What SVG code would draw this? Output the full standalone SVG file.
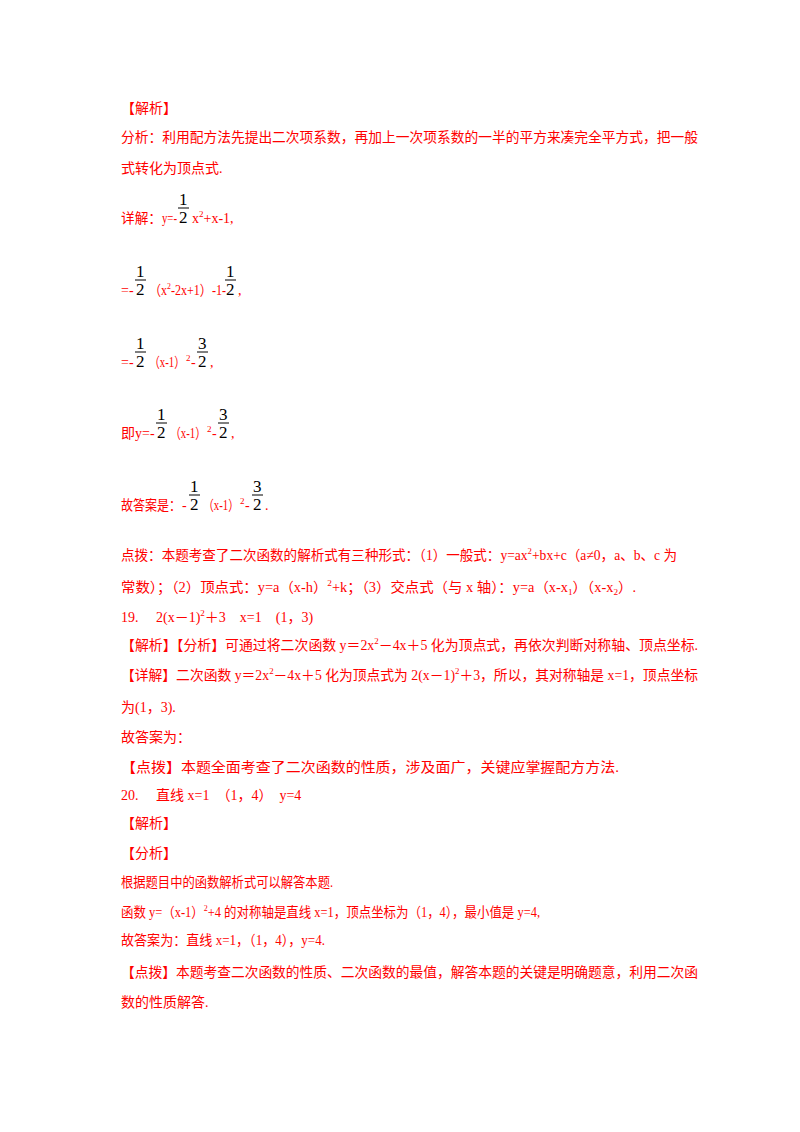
<svg xmlns="http://www.w3.org/2000/svg" width="800" height="1132" viewBox="0 0 800 1132">
<style>
text{font-family:"Liberation Serif","Noto Sans CJK SC",serif;font-size:14px;fill:#f00}
.s{font-size:9px}
.f{font-family:"Liberation Serif",serif;font-size:17px;fill:#000}
line{stroke:#000;stroke-width:1}
</style>
<rect width="800" height="1132" fill="#fff"/>
<g id="text">
<text x="121" y="113">【解析】</text>
<text x="121" y="142" textLength="577" lengthAdjust="spacingAndGlyphs">分析：利用配方法先提出二次项系数，再加上一次项系数的一半的平方来凑完全平方式，把一般</text>
<text x="121" y="173">式转化为顶点式.</text>

<text x="121" y="223" textLength="41" lengthAdjust="spacingAndGlyphs">详解：</text><text x="162" y="223" textLength="15" lengthAdjust="spacingAndGlyphs">y=-</text>
<text x="179" y="205" class="f">1</text><line x1="178" y1="208" x2="189" y2="208"/><text x="179" y="223" class="f">2</text>
<text x="192" y="223">x<tspan class="s" dy="-6">2</tspan><tspan dy="6">+x-1,</tspan></text>

<text x="121" y="295">=-</text>
<text x="136" y="277" class="f">1</text><line x1="135" y1="280" x2="146" y2="280"/><text x="136" y="295" class="f">2</text>
<text x="149" y="295" textLength="77" lengthAdjust="spacingAndGlyphs">（x<tspan class="s" dy="-6">2</tspan><tspan dy="6">-2x+1）-1-</tspan></text>
<text x="226" y="277" class="f">1</text><line x1="225" y1="280" x2="236" y2="280"/><text x="226" y="295" class="f">2</text>
<text x="238" y="295">,</text>

<text x="121" y="367">=-</text>
<text x="136" y="349" class="f">1</text><line x1="135" y1="352" x2="146" y2="352"/><text x="136" y="367" class="f">2</text>
<text x="149" y="367" textLength="36" lengthAdjust="spacingAndGlyphs">（x-1）</text><text x="186" y="361" class="s">2</text><text x="191" y="367">-</text>
<text x="198" y="349" class="f">3</text><line x1="197" y1="352" x2="208" y2="352"/><text x="198" y="367" class="f">2</text>
<text x="210" y="367">,</text>

<text x="121" y="438">即y=-</text>
<text x="157" y="420" class="f">1</text><line x1="156" y1="423" x2="167" y2="423"/><text x="157" y="438" class="f">2</text>
<text x="170" y="438" textLength="36" lengthAdjust="spacingAndGlyphs">（x-1）</text><text x="207" y="432" class="s">2</text><text x="212" y="438">-</text>
<text x="219" y="420" class="f">3</text><line x1="218" y1="423" x2="229" y2="423"/><text x="219" y="438" class="f">2</text>
<text x="231" y="438">,</text>

<text x="121" y="510" textLength="60" lengthAdjust="spacingAndGlyphs">故答案是：</text><text x="182" y="510">-</text>
<text x="190" y="492" class="f">1</text><line x1="189" y1="495" x2="200" y2="495"/><text x="190" y="510" class="f">2</text>
<text x="203" y="510" textLength="36" lengthAdjust="spacingAndGlyphs">（x-1）</text><text x="240" y="504" class="s">2</text><text x="245" y="510">-</text>
<text x="253" y="492" class="f">3</text><line x1="252" y1="495" x2="263" y2="495"/><text x="253" y="510" class="f">2</text>
<text x="265" y="510">.</text>

<text x="121" y="560" textLength="556" lengthAdjust="spacingAndGlyphs">点拨：本题考查了二次函数的解析式有三种形式：（1）一般式：y=ax<tspan class="s" dy="-6">2</tspan><tspan dy="6">+bx+c（a≠0，a、b、c 为</tspan></text>
<text x="121" y="592" textLength="515" lengthAdjust="spacingAndGlyphs">常数）；（2）顶点式：y=a（x-h）<tspan class="s" dy="-6">2</tspan><tspan dy="6">+k；（3）交点式（与 x 轴）：y=a（x-x</tspan><tspan class="s" dy="3">1</tspan><tspan dy="-3">）（x-x</tspan><tspan class="s" dy="3">2</tspan><tspan dy="-3">）.</tspan></text>
<text x="121" y="622">19.　 2(x－1)<tspan class="s" dy="-6">2</tspan><tspan dy="6">＋3　x=1　(1，3)</tspan></text>
<text x="121" y="650" textLength="577" lengthAdjust="spacingAndGlyphs">【解析】【分析】可通过将二次函数 y＝2x<tspan class="s" dy="-6">2</tspan><tspan dy="6">－4x＋5 化为顶点式，再依次判断对称轴、顶点坐标.</tspan></text>
<text x="121" y="680" textLength="577" lengthAdjust="spacingAndGlyphs">【详解】二次函数 y＝2x<tspan class="s" dy="-6">2</tspan><tspan dy="6">－4x＋5 化为顶点式为 2(x－1)</tspan><tspan class="s" dy="-6">2</tspan><tspan dy="6">＋3，所以，其对称轴是 x=1，顶点坐标</tspan></text>
<text x="121" y="712">为(1，3).</text>
<text x="121" y="742">故答案为：</text>
<text x="121" y="772" textLength="498" lengthAdjust="spacingAndGlyphs">【点拨】本题全面考查了二次函数的性质，涉及面广，关键应掌握配方方法.</text>
<text x="121" y="800">20.　 直线 x=1　（1，4）　y=4</text>
<text x="121" y="828">【解析】</text>
<text x="121" y="858">【分析】</text>
<text x="121" y="887" textLength="212" lengthAdjust="spacingAndGlyphs">根据题目中的函数解析式可以解答本题.</text>
<text x="121" y="917" textLength="419" lengthAdjust="spacingAndGlyphs">函数 y=（x-1）<tspan class="s" dy="-6">2</tspan><tspan dy="6">+4 的对称轴是直线 x=1，顶点坐标为（1，4），最小值是 y=4,</tspan></text>
<text x="121" y="945" textLength="204" lengthAdjust="spacingAndGlyphs">故答案为：直线 x=1，（1，4），y=4.</text>
<text x="121" y="977" textLength="577" lengthAdjust="spacingAndGlyphs">【点拨】本题考查二次函数的性质、二次函数的最值，解答本题的关键是明确题意，利用二次函</text>
<text x="121" y="1007">数的性质解答.</text>
</g>
</svg>
